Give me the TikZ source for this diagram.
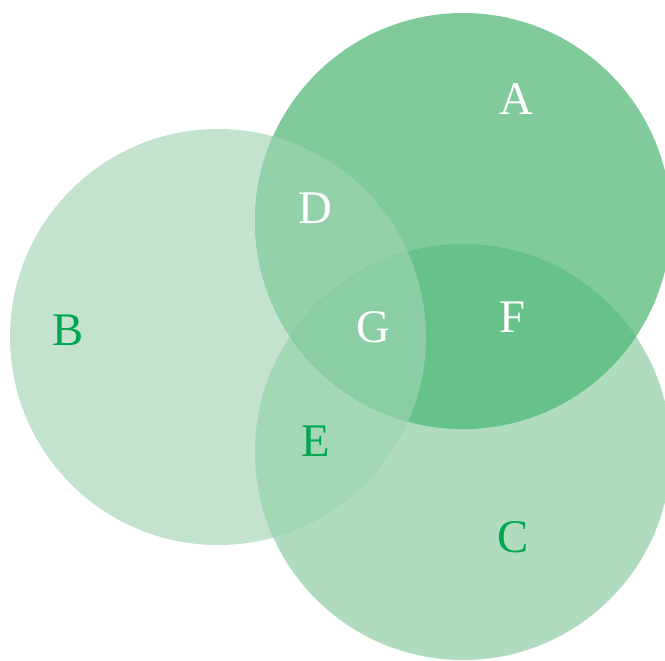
\documentclass[tikz,border=0pt]{standalone}
\usepackage{fontspec}
\setmainfont{Liberation Serif}
\definecolor{aregion}{HTML}{80CA9C}
\definecolor{bregion}{HTML}{C4E3CE}
\definecolor{cregion}{HTML}{AFDCBE}
\definecolor{dregion}{HTML}{93D1AA}
\definecolor{eregion}{HTML}{A4D7B6}
\definecolor{fregion}{HTML}{66C28A}
\definecolor{gregion}{HTML}{8BCDA4}
\definecolor{darkletter}{HTML}{00A651}
\tikzset{
  setlabel/.style={font=\fontsize{26.6}{30}\selectfont, inner sep=0pt},
  lightlabel/.style={setlabel, text=white},
  darklabel/.style={setlabel, text=darkletter}
}
\begin{document}
\begin{tikzpicture}[x=0.02cm, y=-0.02cm]
    \useasboundingbox (0,0) rectangle (665,660);

    % the centres of the three sets
    \coordinate (ca) at (463,221);
    \coordinate (cb) at (218,337);
    \coordinate (cc) at (463,452);

    % the three discs
    \fill[bregion] (cb) circle [radius=208];
    \fill[cregion] (cc) circle [radius=208];
    \fill[aregion] (ca) circle [radius=208];

    % pairwise overlaps
    \begin{scope}
        \clip (ca) circle [radius=208];
        \fill[dregion] (cb) circle [radius=208];
    \end{scope}
    \begin{scope}
        \clip (cb) circle [radius=208];
        \fill[eregion] (cc) circle [radius=208];
    \end{scope}
    \begin{scope}
        \clip (ca) circle [radius=208];
        \fill[fregion] (cc) circle [radius=208];
    \end{scope}
    % the middle piece
    \begin{scope}
        \clip (ca) circle [radius=208];
        \clip (cb) circle [radius=208];
        \fill[gregion] (cc) circle [radius=208];
    \end{scope}

    % the labels
    \node[lightlabel] (la) at (516,99) {A};
    \node[darklabel] (lb) at (68,330) {B};
    \node[darklabel] (lc) at (513,537) {C};
    \node[lightlabel] (ld) at (315,208) {D};
    \node[darklabel] (le) at (316,441) {E};
    \node[lightlabel] (lf) at (512,317) {F};
    \node[lightlabel] (lg) at (373,327) {G};
\end{tikzpicture}
\end{document}
